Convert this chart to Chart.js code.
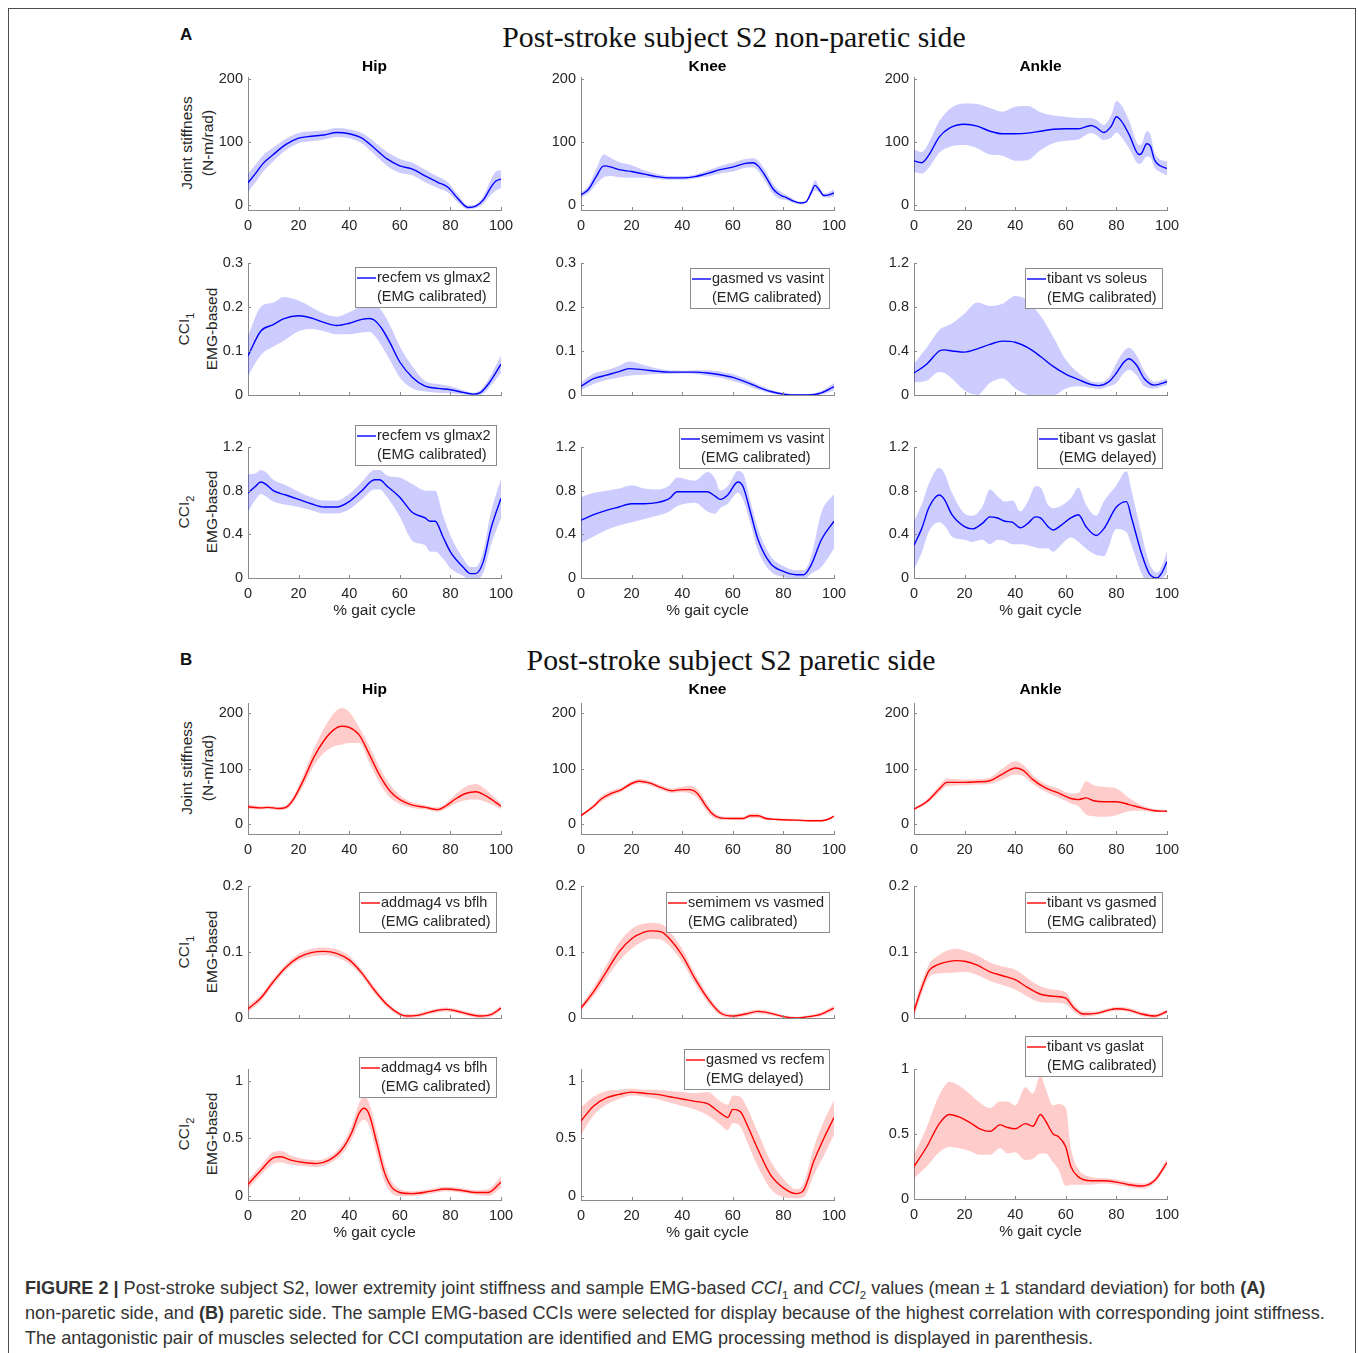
<!DOCTYPE html>
<html>
<head>
<meta charset="utf-8">
<script src="https://cdn.jsdelivr.net/npm/chart.js@4.4.1/dist/chart.umd.min.js"></script>
<style>
  body { margin: 0; background: #fff; width: 1358px; height: 1353px; overflow: hidden; position: relative; font-family: 'Liberation Sans', Arial, sans-serif; }
  #frame { position: absolute; left: 8px; top: 8px; width: 1346px; height: 1400px; border: 1.5px solid #4d4d4d; }
  canvas { position: absolute; }
  .abs { position: absolute; white-space: nowrap; }
  .panel-letter { font-weight: bold; font-size: 17px; line-height: 18px; color: #111; }
  .main-title { font-family: 'Liberation Serif', 'Times New Roman', serif; font-size: 29.8px; line-height: 30px; color: #111; transform: translateX(-50%); }
  .ylab { font-size: 15.5px; line-height: 18px; color: #262626; transform: translate(-50%, -50%) rotate(-90deg); }
  .ylab sub { font-size: 11px; }
  #caption { left: 25px; top: 1276px; font-size: 18.1px; line-height: 25px; color: #333; }
  #caption sub { font-size: 11.5px; line-height: 0; }
</style>
</head>
<body>
<div id="frame"></div>

<div class="abs panel-letter" style="left:180px; top:26px;">A</div>
<div class="abs main-title" style="left:734px; top:22px;">Post-stroke subject S2 non-paretic side</div>
<div class="abs panel-letter" style="left:180px; top:651px;">B</div>
<div class="abs main-title" style="left:731px; top:645px;">Post-stroke subject S2 paretic side</div>

<!-- row labels -->
<div class="abs ylab" style="left:187px; top:143px;">Joint stiffness</div>
<div class="abs ylab" style="left:208px; top:143px;">(N-m/rad)</div>
<div class="abs ylab" style="left:187px; top:329px;">CCI<sub>1</sub></div>
<div class="abs ylab" style="left:212px; top:329px;">EMG-based</div>
<div class="abs ylab" style="left:187px; top:512px;">CCI<sub>2</sub></div>
<div class="abs ylab" style="left:212px; top:512px;">EMG-based</div>
<div class="abs ylab" style="left:187px; top:768px;">Joint stiffness</div>
<div class="abs ylab" style="left:208px; top:768px;">(N-m/rad)</div>
<div class="abs ylab" style="left:187px; top:952px;">CCI<sub>1</sub></div>
<div class="abs ylab" style="left:212px; top:952px;">EMG-based</div>
<div class="abs ylab" style="left:187px; top:1134px;">CCI<sub>2</sub></div>
<div class="abs ylab" style="left:212px; top:1134px;">EMG-based</div>

<div id="caption" class="abs"><b>FIGURE 2 |</b> Post-stroke subject S2, lower extremity joint stiffness and sample EMG-based <i>CCI</i><sub>1</sub> and <i>CCI</i><sub>2</sub> values (mean ± 1 standard deviation) for both <b>(A)</b><br>non-paretic side, and <b>(B)</b> paretic side. The sample EMG-based CCIs were selected for display because of the highest correlation with corresponding joint stiffness.<br>The antagonistic pair of muscles selected for CCI computation are identified and EMG processing method is displayed in parenthesis.</div>

<script>
// ---- data: % gait cycle, mean, 1 SD ----

// A: non-paretic side
const aHipStiffPct  = [0, 3, 6, 10, 15, 20, 25, 30, 35, 40, 45, 50, 55, 60, 65, 70, 75, 79, 83, 87, 90, 93, 96, 98, 100];
const aHipStiffMean = [35, 50, 66, 80, 96, 106, 109, 111, 115, 113, 106, 90, 73, 62, 57, 46, 36, 28, 10, -4, -2, 8, 28, 38, 41];
const aHipStiffSd   = [14, 14, 13, 11, 9, 8, 8, 7, 7, 7, 8, 10, 11, 11, 10, 10, 9, 8, 6, 3, 3, 6, 12, 15, 14];

const aKneeStiffPct  = [0, 3, 6, 9, 12, 15, 20, 25, 30, 35, 40, 45, 50, 55, 60, 65, 68, 70, 73, 76, 79, 81, 84, 87, 89, 91, 92.5, 94, 96, 98, 100];
const aKneeStiffMean = [16, 25, 45, 62, 60, 56, 53, 49, 45, 43, 43, 45, 50, 56, 60, 66, 67, 62, 45, 25, 15, 12, 6, 3, 5, 20, 31, 25, 15, 16, 19];
const aKneeStiffSd   = [4, 6, 12, 18, 14, 12, 10, 6, 4, 3, 3, 3, 5, 6, 7, 7, 7, 8, 9, 8, 6, 4, 3, 2, 2, 5, 8, 5, 3, 4, 6];

const aAnkleStiffPct  = [0, 3, 6, 10, 14, 20, 25, 30, 35, 40, 45, 50, 55, 60, 65, 70, 72, 75, 78, 80, 82, 85, 89, 90, 92, 93.5, 95, 97, 100];
const aAnkleStiffMean = [70, 67, 80, 108, 122, 128, 125, 117, 113, 113, 114, 117, 120, 121, 121, 126, 123, 115, 125, 140, 133, 112, 80, 82, 97, 93, 72, 63, 58];
const aAnkleStiffSd   = [18, 17, 20, 25, 30, 33, 35, 37, 35, 43, 43, 30, 22, 19, 17, 12, 12, 12, 18, 25, 25, 22, 15, 15, 20, 18, 12, 10, 11];

const aHipCci1Pct  = [0, 5, 10, 14, 20, 25, 30, 35, 40, 45, 48, 50, 53, 56, 60, 65, 70, 75, 80, 85, 89, 92, 95, 100];
const aHipCci1Mean = [0.089, 0.145, 0.16, 0.173, 0.18, 0.175, 0.165, 0.158, 0.163, 0.172, 0.174, 0.17, 0.15, 0.12, 0.075, 0.04, 0.02, 0.015, 0.012, 0.006, 0.002, 0.006, 0.025, 0.07];
const aHipCci1Sd   = [0.045, 0.055, 0.05, 0.05, 0.035, 0.025, 0.02, 0.02, 0.025, 0.03, 0.03, 0.035, 0.04, 0.04, 0.035, 0.025, 0.012, 0.01, 0.008, 0.005, 0.003, 0.006, 0.01, 0.02];

const aKneeCci1Pct  = [0, 5, 10, 15, 19, 25, 30, 35, 40, 45, 50, 55, 60, 65, 70, 75, 80, 85, 90, 95, 100];
const aKneeCci1Mean = [0.02, 0.037, 0.045, 0.053, 0.06, 0.057, 0.054, 0.052, 0.052, 0.052, 0.05, 0.046, 0.04, 0.03, 0.018, 0.008, 0.002, 0, 0, 0.005, 0.019];
const aKneeCci1Sd   = [0.008, 0.012, 0.011, 0.013, 0.016, 0.011, 0.006, 0.004, 0.003, 0.004, 0.006, 0.007, 0.008, 0.007, 0.006, 0.004, 0.003, 0.002, 0.002, 0.004, 0.008];

const aAnkleCci1Pct  = [0, 5, 10, 12, 15, 20, 25, 30, 35, 40, 45, 50, 55, 60, 65, 70, 73, 77, 80, 83, 85, 88, 91, 95, 100];
const aAnkleCci1Mean = [0.2, 0.28, 0.4, 0.41, 0.4, 0.39, 0.42, 0.46, 0.49, 0.48, 0.43, 0.35, 0.26, 0.19, 0.14, 0.095, 0.085, 0.12, 0.2, 0.3, 0.33, 0.27, 0.15, 0.09, 0.12];
const aAnkleCci1Sd   = [0.085, 0.15, 0.19, 0.21, 0.25, 0.35, 0.42, 0.35, 0.34, 0.42, 0.43, 0.37, 0.27, 0.13, 0.06, 0.03, 0.03, 0.04, 0.09, 0.1, 0.1, 0.09, 0.07, 0.03, 0.03];

const aHipCci2Pct  = [0, 3, 5, 7, 10, 15, 20, 25, 30, 35, 40, 45, 50, 52, 55, 60, 65, 70, 72, 74, 77, 80, 85, 88, 90, 93, 96, 100];
const aHipCci2Mean = [0.78, 0.84, 0.88, 0.86, 0.8, 0.76, 0.72, 0.68, 0.65, 0.65, 0.7, 0.8, 0.9, 0.9, 0.84, 0.74, 0.6, 0.55, 0.52, 0.52, 0.38, 0.24, 0.1, 0.04, 0.04, 0.15, 0.45, 0.73];
const aHipCci2Sd   = [0.17, 0.12, 0.11, 0.11, 0.1, 0.09, 0.07, 0.06, 0.06, 0.06, 0.07, 0.08, 0.09, 0.09, 0.1, 0.18, 0.26, 0.25, 0.28, 0.28, 0.2, 0.15, 0.08, 0.06, 0.06, 0.1, 0.15, 0.18];

const aKneeCci2Pct  = [0, 5, 10, 15, 20, 25, 30, 35, 38, 45, 50, 53, 55, 58, 62, 64, 67, 70, 75, 80, 85, 88, 91, 95, 100];
const aKneeCci2Mean = [0.53, 0.58, 0.62, 0.65, 0.68, 0.68, 0.69, 0.73, 0.79, 0.79, 0.79, 0.75, 0.72, 0.76, 0.88, 0.84, 0.6, 0.35, 0.13, 0.06, 0.03, 0.03, 0.12, 0.35, 0.52];
const aKneeCci2Sd   = [0.21, 0.2, 0.18, 0.17, 0.17, 0.14, 0.12, 0.12, 0.13, 0.1, 0.18, 0.16, 0.08, 0.08, 0.1, 0.12, 0.1, 0.1, 0.07, 0.05, 0.04, 0.04, 0.08, 0.25, 0.25];

const aAnkleCci2Pct  = [0, 3, 6, 10, 12, 15, 20, 23, 27, 30, 33, 36, 39, 42, 45, 48, 50, 53, 55, 58, 62, 65, 68, 72, 75, 80, 84, 86, 90, 93, 96, 98, 100];
const aAnkleCci2Mean = [0.3, 0.45, 0.65, 0.76, 0.72, 0.58, 0.47, 0.45, 0.5, 0.56, 0.55, 0.52, 0.51, 0.46, 0.5, 0.56, 0.55, 0.47, 0.44, 0.48, 0.55, 0.58, 0.47, 0.39, 0.45, 0.65, 0.7, 0.55, 0.22, 0.04, 0, 0.05, 0.15];
const aAnkleCci2Sd   = [0.22, 0.22, 0.22, 0.25, 0.24, 0.2, 0.12, 0.12, 0.15, 0.25, 0.2, 0.18, 0.2, 0.15, 0.2, 0.28, 0.28, 0.2, 0.2, 0.18, 0.18, 0.25, 0.2, 0.18, 0.25, 0.2, 0.28, 0.25, 0.18, 0.1, 0.05, 0.06, 0.1];

// B: paretic side
const bHipStiffPct  = [0, 5, 8, 12, 15, 18, 22, 26, 30, 34, 37, 40, 44, 48, 52, 56, 60, 65, 70, 75, 78, 82, 86, 90, 95, 100];
const bHipStiffMean = [31, 29, 30, 28, 30, 45, 80, 120, 150, 170, 176, 174, 160, 125, 88, 60, 44, 34, 30, 26, 32, 45, 55, 58, 48, 32];
const bHipStiffSd   = [4, 3, 3, 3, 4, 6, 10, 15, 22, 30, 33, 28, 14, 15, 14, 12, 8, 5, 4, 4, 5, 8, 12, 14, 10, 5];

const bKneeStiffPct  = [0, 5, 8, 12, 16, 20, 23, 27, 32, 36, 40, 43, 46, 49, 52, 55, 60, 64, 67, 70, 73, 78, 85, 90, 95, 98, 100];
const bKneeStiffMean = [15, 32, 45, 55, 62, 73, 77, 74, 65, 60, 62, 62, 55, 35, 18, 11, 10, 10, 15, 15, 10, 8, 7, 6, 6, 9, 14];
const bKneeStiffSd   = [2, 4, 5, 5, 4, 4, 4, 4, 4, 4, 5, 7, 8, 8, 6, 4, 3, 3, 4, 4, 3, 2, 2, 2, 2, 2, 2];

const bAnkleStiffPct  = [0, 5, 10, 13, 20, 25, 30, 35, 40, 43, 47, 52, 57, 62, 65, 68, 71, 75, 80, 85, 90, 95, 100];
const bAnkleStiffMean = [27, 40, 63, 75, 75, 76, 78, 90, 101, 97, 80, 65, 56, 46, 44, 47, 42, 40, 40, 35, 29, 24, 23];
const bAnkleStiffSd   = [2, 4, 6, 7, 5, 5, 6, 10, 12, 10, 8, 7, 8, 9, 12, 30, 28, 27, 24, 12, 5, 3, 2];

const bHipCci1Pct  = [0, 5, 10, 15, 20, 25, 30, 35, 40, 45, 50, 55, 60, 63, 67, 72, 78, 82, 87, 92, 96, 100];
const bHipCci1Mean = [0.014, 0.03, 0.055, 0.077, 0.092, 0.099, 0.101, 0.098, 0.088, 0.068, 0.042, 0.02, 0.006, 0.003, 0.004, 0.009, 0.013, 0.011, 0.006, 0.003, 0.005, 0.015];
const bHipCci1Sd   = [0.005, 0.005, 0.005, 0.005, 0.005, 0.006, 0.006, 0.006, 0.006, 0.005, 0.005, 0.004, 0.003, 0.003, 0.003, 0.003, 0.003, 0.003, 0.003, 0.003, 0.003, 0.004];

const bKneeCci1Pct  = [0, 5, 10, 15, 20, 25, 28, 32, 35, 40, 45, 50, 55, 60, 65, 70, 75, 80, 85, 90, 95, 100];
const bKneeCci1Mean = [0.015, 0.04, 0.07, 0.1, 0.12, 0.13, 0.132, 0.13, 0.12, 0.095, 0.06, 0.03, 0.008, 0.003, 0.006, 0.01, 0.007, 0.002, 0, 0.002, 0.006, 0.015];
const bKneeCci1Sd   = [0.004, 0.007, 0.01, 0.014, 0.015, 0.013, 0.012, 0.012, 0.011, 0.01, 0.008, 0.006, 0.004, 0.003, 0.003, 0.003, 0.003, 0.002, 0.002, 0.002, 0.003, 0.004];

const bAnkleCci1Pct  = [0, 3, 6, 9, 13, 17, 20, 25, 30, 35, 40, 45, 50, 55, 60, 63, 67, 72, 77, 80, 85, 90, 95, 100];
const bAnkleCci1Mean = [0.01, 0.045, 0.072, 0.08, 0.085, 0.087, 0.086, 0.08, 0.07, 0.064, 0.058, 0.046, 0.036, 0.033, 0.03, 0.016, 0.006, 0.007, 0.012, 0.014, 0.012, 0.006, 0.003, 0.01];
const bAnkleCci1Sd   = [0.008, 0.009, 0.01, 0.013, 0.017, 0.018, 0.016, 0.015, 0.014, 0.014, 0.015, 0.014, 0.012, 0.01, 0.009, 0.006, 0.004, 0.003, 0.003, 0.003, 0.003, 0.003, 0.003, 0.003];

const bHipCci2Pct  = [0, 5, 10, 13, 17, 22, 27, 32, 37, 41, 44, 46, 48, 51, 54, 57, 60, 65, 72, 78, 84, 90, 95, 100];
const bHipCci2Mean = [0.1, 0.22, 0.33, 0.34, 0.31, 0.29, 0.28, 0.31, 0.4, 0.55, 0.72, 0.76, 0.7, 0.45, 0.2, 0.07, 0.03, 0.02, 0.04, 0.06, 0.05, 0.03, 0.03, 0.12];
const bHipCci2Sd   = [0.04, 0.04, 0.05, 0.05, 0.04, 0.03, 0.03, 0.03, 0.04, 0.06, 0.09, 0.1, 0.1, 0.1, 0.08, 0.05, 0.03, 0.02, 0.02, 0.02, 0.02, 0.02, 0.03, 0.05];

const bKneeCci2Pct  = [0, 5, 10, 15, 20, 25, 30, 35, 40, 45, 50, 55, 58, 60, 63, 66, 70, 75, 80, 85, 88, 92, 96, 100];
const bKneeCci2Mean = [0.65, 0.78, 0.85, 0.88, 0.9, 0.89, 0.88, 0.86, 0.84, 0.82, 0.8, 0.72, 0.68, 0.75, 0.73, 0.6, 0.4, 0.18, 0.07, 0.02, 0.05, 0.3, 0.5, 0.68];
const bKneeCci2Sd   = [0.12, 0.08, 0.06, 0.04, 0.03, 0.03, 0.04, 0.05, 0.06, 0.07, 0.1, 0.1, 0.11, 0.12, 0.13, 0.15, 0.15, 0.12, 0.08, 0.04, 0.06, 0.12, 0.15, 0.15];

const bAnkleCci2Pct  = [0, 5, 10, 14, 18, 22, 26, 30, 34, 37, 40, 44, 47, 50, 52, 55, 57, 60, 62, 65, 70, 75, 80, 85, 90, 95, 100];
const bAnkleCci2Mean = [0.25, 0.4, 0.58, 0.65, 0.63, 0.59, 0.54, 0.52, 0.57, 0.55, 0.54, 0.58, 0.56, 0.65, 0.6, 0.5, 0.48, 0.4, 0.25, 0.17, 0.14, 0.14, 0.13, 0.11, 0.1, 0.14, 0.28];
const bAnkleCci2Sd   = [0.09, 0.15, 0.22, 0.25, 0.24, 0.22, 0.2, 0.18, 0.18, 0.2, 0.18, 0.28, 0.25, 0.3, 0.25, 0.22, 0.25, 0.3, 0.14, 0.06, 0.03, 0.02, 0.02, 0.02, 0.02, 0.02, 0.03];

// tick labels
const gaitTicks = [0, 20, 40, 60, 80, 100];
const stiffTicks = [0, 100, 200];
const cciSmallTicks = [0, 0.1, 0.2, 0.3];
const cciLargeTicks = [0, 0.4, 0.8, 1.2];
const cciPareticTicks = [0, 0.1, 0.2];
const cci2PareticTicks = [0, 0.5, 1];

// ---- styling ----
const FONT = "'Liberation Sans', Arial, Helvetica, sans-serif";
const TEXT_COLOR = '#262626';
const AXIS_COLOR = '#8a8a8a';
const COLORS = {
  blue: { line: '#0000ff', band: 'rgba(0, 0, 255, 0.2)' },
  red:  { line: '#ff0000', band: 'rgba(255, 0, 0, 0.2)' }
};
const PAD_LEFT = 70, PAD_TOP = 45, PAD_RIGHT = 30, PAD_BOTTOM = 50;

// plot rectangles in page pixels
const COLS = [[248, 501], [581, 834], [914, 1167]];
const ROWS = {
  a1: [77, 210], a2: [263, 395], a3: [447, 578],
  b1: [703, 834], b2: [886, 1018], b3: [1069, 1200]
};

const panels = [
  // A row 1: stiffness
  { col: 0, row: 'a1', color: 'blue', x: aHipStiffPct, mean: aHipStiffMean, sd: aHipStiffSd, ymin: -8, ymax: 203, yticks: stiffTicks, title: 'Hip', titleOff: 10, xLabels: true },
  { col: 1, row: 'a1', color: 'blue', x: aKneeStiffPct, mean: aKneeStiffMean, sd: aKneeStiffSd, ymin: -8, ymax: 203, yticks: stiffTicks, title: 'Knee', titleOff: 10, xLabels: true },
  { col: 2, row: 'a1', color: 'blue', x: aAnkleStiffPct, mean: aAnkleStiffMean, sd: aAnkleStiffSd, ymin: -8, ymax: 203, yticks: stiffTicks, title: 'Ankle', titleOff: 10, xLabels: true },
  // A row 2: CCI1
  { col: 0, row: 'a2', color: 'blue', x: aHipCci1Pct, mean: aHipCci1Mean, sd: aHipCci1Sd, ymin: 0, ymax: 0.3, yticks: cciSmallTicks,
    legend: { lines: ['recfem vs glmax2', '(EMG calibrated)'], top: 4 } },
  { col: 1, row: 'a2', color: 'blue', x: aKneeCci1Pct, mean: aKneeCci1Mean, sd: aKneeCci1Sd, ymin: 0, ymax: 0.3, yticks: cciSmallTicks,
    legend: { lines: ['gasmed vs vasint', '(EMG calibrated)'], top: 5 } },
  { col: 2, row: 'a2', color: 'blue', x: aAnkleCci1Pct, mean: aAnkleCci1Mean, sd: aAnkleCci1Sd, ymin: 0, ymax: 1.2, yticks: cciLargeTicks,
    legend: { lines: ['tibant vs soleus', '(EMG calibrated)'], top: 5 } },
  // A row 3: CCI2
  { col: 0, row: 'a3', color: 'blue', x: aHipCci2Pct, mean: aHipCci2Mean, sd: aHipCci2Sd, ymin: 0, ymax: 1.2, yticks: cciLargeTicks, xLabels: true, xTitle: true,
    legend: { lines: ['recfem vs glmax2', '(EMG calibrated)'], top: -22 } },
  { col: 1, row: 'a3', color: 'blue', x: aKneeCci2Pct, mean: aKneeCci2Mean, sd: aKneeCci2Sd, ymin: 0, ymax: 1.2, yticks: cciLargeTicks, xLabels: true, xTitle: true,
    legend: { lines: ['semimem vs vasint', '(EMG calibrated)'], top: -19 } },
  { col: 2, row: 'a3', color: 'blue', x: aAnkleCci2Pct, mean: aAnkleCci2Mean, sd: aAnkleCci2Sd, ymin: 0, ymax: 1.2, yticks: cciLargeTicks, xLabels: true, xTitle: true,
    legend: { lines: ['tibant vs gaslat', '(EMG delayed)'], top: -19 } },
  // B row 1: stiffness
  { col: 0, row: 'b1', color: 'red', x: bHipStiffPct, mean: bHipStiffMean, sd: bHipStiffSd, ymin: -18, ymax: 218, yticks: stiffTicks, title: 'Hip', titleOff: 13, xLabels: true },
  { col: 1, row: 'b1', color: 'red', x: bKneeStiffPct, mean: bKneeStiffMean, sd: bKneeStiffSd, ymin: -18, ymax: 218, yticks: stiffTicks, title: 'Knee', titleOff: 13, xLabels: true },
  { col: 2, row: 'b1', color: 'red', x: bAnkleStiffPct, mean: bAnkleStiffMean, sd: bAnkleStiffSd, ymin: -18, ymax: 218, yticks: stiffTicks, title: 'Ankle', titleOff: 13, xLabels: true },
  // B row 2: CCI1
  { col: 0, row: 'b2', color: 'red', x: bHipCci1Pct, mean: bHipCci1Mean, sd: bHipCci1Sd, ymin: 0, ymax: 0.2, yticks: cciPareticTicks,
    legend: { lines: ['addmag4 vs bflh', '(EMG calibrated)'], top: 6 } },
  { col: 1, row: 'b2', color: 'red', x: bKneeCci1Pct, mean: bKneeCci1Mean, sd: bKneeCci1Sd, ymin: 0, ymax: 0.2, yticks: cciPareticTicks,
    legend: { lines: ['semimem vs vasmed', '(EMG calibrated)'], top: 6 } },
  { col: 2, row: 'b2', color: 'red', x: bAnkleCci1Pct, mean: bAnkleCci1Mean, sd: bAnkleCci1Sd, ymin: 0, ymax: 0.2, yticks: cciPareticTicks,
    legend: { lines: ['tibant vs gasmed', '(EMG calibrated)'], top: 6 } },
  // B row 3: CCI2
  { col: 0, row: 'b3', color: 'red', x: bHipCci2Pct, mean: bHipCci2Mean, sd: bHipCci2Sd, ymin: -0.035, ymax: 1.1, yticks: cci2PareticTicks, xLabels: true, xTitle: true,
    legend: { lines: ['addmag4 vs bflh', '(EMG calibrated)'], top: -12 } },
  { col: 1, row: 'b3', color: 'red', x: bKneeCci2Pct, mean: bKneeCci2Mean, sd: bKneeCci2Sd, ymin: -0.035, ymax: 1.1, yticks: cci2PareticTicks, xLabels: true, xTitle: true,
    legend: { lines: ['gasmed vs recfem', '(EMG delayed)'], top: -20 } },
  { col: 2, row: 'b3', color: 'red', x: bAnkleCci2Pct, mean: bAnkleCci2Mean, sd: bAnkleCci2Sd, ymin: 0, ymax: 1, yticks: cci2PareticTicks, xLabels: true, xTitle: true, bottomFix: -1,
    legend: { lines: ['tibant vs gaslat', '(EMG calibrated)'], top: -33 } }
];

// Draws panel title, x label, inward tick marks and the two-line legend box
const panelDecor = {
  id: 'panelDecor',
  afterDatasetsDraw(chart, args, opts) {
    const ctx = chart.ctx;
    const area = chart.chartArea;
    const xs = chart.scales.x, ys = chart.scales.y;
    ctx.save();

    // inward ticks
    ctx.strokeStyle = AXIS_COLOR;
    ctx.lineWidth = 1;
    ctx.beginPath();
    gaitTicks.forEach(v => {
      const px = Math.round(xs.getPixelForValue(v)) + 0.5;
      ctx.moveTo(px, area.bottom);
      ctx.lineTo(px, area.bottom - 3);
    });
    opts.yticks.forEach(v => {
      const py = Math.round(ys.getPixelForValue(v)) + 0.5;
      ctx.moveTo(area.left, py);
      ctx.lineTo(area.left + 3, py);
    });
    ctx.stroke();

    const midX = (area.left + area.right) / 2;
    ctx.textAlign = 'center';
    ctx.textBaseline = 'middle';
    if (opts.title) {
      ctx.fillStyle = '#000';
      ctx.font = `bold 15.5px ${FONT}`;
      ctx.fillText(opts.title, midX, area.top - opts.titleOff);
    }
    if (opts.xTitle) {
      ctx.fillStyle = TEXT_COLOR;
      ctx.font = `15.5px ${FONT}`;
      ctx.fillText('% gait cycle', midX, area.bottom + 33);
    }

    const lg = opts.legend;
    if (lg) {
      ctx.font = `14.5px ${FONT}`;
      const w = Math.max(...lg.lines.map(t => ctx.measureText(t).width));
      const boxW = Math.round(w + 27), boxH = 40;
      const right = Math.round(area.right - 5);
      const left = right - boxW;
      const top = Math.round(area.top + lg.top);
      ctx.fillStyle = '#fff';
      ctx.fillRect(left, top, boxW, boxH);
      ctx.strokeStyle = '#8c8c8c';
      ctx.lineWidth = 1;
      ctx.strokeRect(left + 0.5, top + 0.5, boxW, boxH);
      ctx.strokeStyle = opts.lineColor;
      ctx.lineWidth = 1.4;
      ctx.beginPath();
      ctx.moveTo(left + 2, top + 11);
      ctx.lineTo(left + 21, top + 11);
      ctx.stroke();
      ctx.fillStyle = TEXT_COLOR;
      ctx.textAlign = 'left';
      ctx.fillText(lg.lines[0], left + 22, top + 11);
      ctx.fillText(lg.lines[1], left + 22, top + 30);
    }
    ctx.restore();
  }
};

function toPoints(xArr, yArr) {
  return xArr.map((p, i) => ({ x: p, y: yArr[i] }));
}

function buildPanel(p) {
  const [L, R] = COLS[p.col];
  const [T, B] = ROWS[p.row];
  const bottom = B + (p.bottomFix || 0);
  const canvas = document.createElement('canvas');
  canvas.width = (R - L) + PAD_LEFT + PAD_RIGHT;
  canvas.height = (bottom - T) + PAD_TOP + PAD_BOTTOM;
  canvas.style.left = (L - PAD_LEFT) + 'px';
  canvas.style.top = (T - PAD_TOP) + 'px';
  document.body.appendChild(canvas);

  const col = COLORS[p.color];
  const upper = p.mean.map((m, i) => m + p.sd[i]);
  const lower = p.mean.map((m, i) => m - p.sd[i]);
  const smooth = { pointRadius: 0, cubicInterpolationMode: 'monotone' };

  new Chart(canvas.getContext('2d'), {
    type: 'line',
    data: {
      datasets: [
        { ...smooth, data: toPoints(p.x, upper), borderWidth: 0, borderColor: 'transparent', backgroundColor: col.band, fill: '+1' },
        { ...smooth, data: toPoints(p.x, lower), borderWidth: 0, borderColor: 'transparent', fill: false },
        { ...smooth, data: toPoints(p.x, p.mean), borderWidth: 1.4, borderColor: col.line, fill: false }
      ]
    },
    options: {
      responsive: false,
      animation: false,
      devicePixelRatio: 1,
      layout: { padding: { left: 0, top: PAD_TOP, right: PAD_RIGHT, bottom: 0 } },
      plugins: {
        legend: { display: false },
        tooltip: { enabled: false },
        panelDecor: {
          title: p.title, titleOff: p.titleOff, xTitle: p.xTitle,
          legend: p.legend, lineColor: col.line, yticks: p.yticks
        }
      },
      scales: {
        x: {
          type: 'linear', min: 0, max: 100,
          grid: { display: false, drawTicks: false },
          border: { display: true, color: AXIS_COLOR, width: 1 },
          ticks: { display: !!p.xLabels, color: TEXT_COLOR, font: { family: FONT, size: 14.5 }, padding: 7, maxRotation: 0 },
          afterBuildTicks: s => { s.ticks = gaitTicks.map(v => ({ value: v })); },
          afterFit: s => { s.height = PAD_BOTTOM; }
        },
        y: {
          type: 'linear', min: p.ymin, max: p.ymax,
          grid: { display: false, drawTicks: false },
          border: { display: true, color: AXIS_COLOR, width: 1 },
          ticks: { color: TEXT_COLOR, font: { family: FONT, size: 14.5 }, padding: 5, callback: v => String(v) },
          afterBuildTicks: s => { s.ticks = p.yticks.map(v => ({ value: v })); },
          afterFit: s => { s.width = PAD_LEFT; }
        }
      }
    },
    plugins: [panelDecor]
  });
}

panels.forEach(buildPanel);
</script>
</body>
</html>
